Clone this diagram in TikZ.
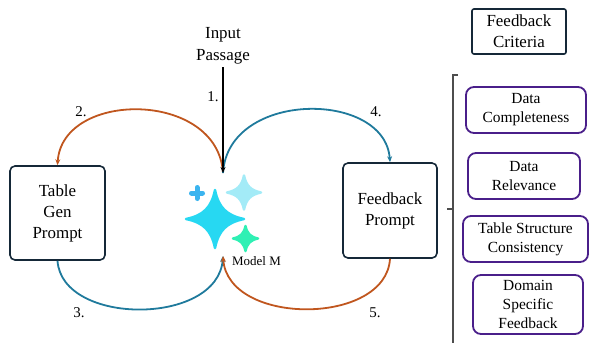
\documentclass[tikz,border=0pt]{standalone}
\usepackage{fontspec}
\setmainfont{Liberation Serif}
\usetikzlibrary{arrows.meta}
\definecolor{arcorange}{HTML}{C0561E}
\definecolor{arcblue}{HTML}{1F7A9C}
\definecolor{boxnavy}{HTML}{152838}
\definecolor{boxpurple}{HTML}{4A1F8A}
\definecolor{bracketgrey}{HTML}{4D4D4D}
\definecolor{starbig}{HTML}{27D8F2}
\definecolor{starlight}{HTML}{A3EBF7}
\definecolor{stargreen}{HTML}{2FF0B4}
\definecolor{starblue}{HTML}{3BB4EF}
% #1 cx, #2 cy, #3 radius, #4 colour, #5 near control (along arm), #6 side control
\newcommand\fourstar[6]{%
  \filldraw[#4, line width=2.5bp, line join=round]
    (#1+#3,#2) .. controls (#1+#5*#3,#2-#6*#3) and (#1+#6*#3,#2-#5*#3) .. (#1,#2-#3)
    .. controls (#1-#6*#3,#2-#5*#3) and (#1-#5*#3,#2-#6*#3) .. (#1-#3,#2)
    .. controls (#1-#5*#3,#2+#6*#3) and (#1-#6*#3,#2+#5*#3) .. (#1,#2+#3)
    .. controls (#1+#6*#3,#2+#5*#3) and (#1+#5*#3,#2+#6*#3) .. cycle;}
\tikzset{
  mainbox/.style={draw=boxnavy, line width=1.6bp, rounded corners=5bp, align=center, inner sep=0pt,
    font=\fontsize{17}{21}\selectfont},
  critbox/.style={draw=boxpurple, line width=1.8bp, rounded corners=8bp, align=center, inner sep=0pt,
    font=\fontsize{15.5}{19}\selectfont},
  numlabel/.style={font=\fontsize{15}{18}\selectfont, inner sep=0pt},
  orangearc/.style={draw=arcorange, line width=1.8bp, -{Stealth[length=6bp,width=5bp]}},
  bluearc/.style={draw=arcblue, line width=1.8bp, -{Stealth[length=6bp,width=5bp]}},
  crossarm/.style={starblue, line width=5bp, line cap=round},
}
\begin{document}
\begin{tikzpicture}[x=1bp, y=-1bp]
\useasboundingbox (0,0) rectangle (589,342);
% nodes
\node[align=center, inner sep=0pt, font=\fontsize{17}{22}\selectfont] (input) at (223,45.5) {Input\\Passage};
\coordinate (inbot) at (223,67);
\coordinate (mtop) at (223,173);
\coordinate (mbot) at (223,256);
\node[mainbox, minimum width=95bp, minimum height=94bp] (tablegen) at (57.5,213) {Table\\Gen\\Prompt};
\node[mainbox, minimum width=94bp, minimum height=95bp] (feedback) at (390,210.5) {Feedback\\Prompt};
\node[mainbox, rounded corners=2bp, minimum width=94bp, minimum height=45bp] (criteria) at (519,31.5) {Feedback\\Criteria};
\node[critbox, minimum width=120bp, minimum height=46bp] (c1) at (526,110) {Data\\Completeness};
\node[critbox, minimum width=112bp, minimum height=46bp] (c2) at (524,176) {Data\\Relevance};
\node[critbox, minimum width=125bp, minimum height=46bp] (c3) at (525.5,239) {Table Structure\\Consistency};
\node[critbox, minimum width=110bp, minimum height=59bp] (c4) at (528,304.5) {Domain\\Specific\\Feedback};
% sparkles
\fourstar{244}{192.5}{17}{starlight}{0.4}{0.12}
\fourstar{215}{219}{29}{starbig}{0.4}{0.12}
\fourstar{245.5}{238.5}{12.5}{stargreen}{0.4}{0.12}
\draw[crossarm] (191.5,193) -- (202.5,193);
\draw[crossarm] (197,187.5) -- (197,198.5);
% model label
\node[font=\fontsize{13}{15}\selectfont, anchor=west, inner sep=0pt] (model) at (232,261) {Model M};
% connectors
\draw[orangearc] (mtop) .. controls (218,90) and (62,90) .. (tablegen.north);
\draw[bluearc] (mtop) .. controls (228,90) and (385,90) .. (feedback.north);
\draw[bluearc] (tablegen.south) .. controls (62,326) and (218,326) .. (mbot);
\draw[orangearc] (feedback.south) .. controls (386,326) and (228,326) .. (mbot);
\draw[line width=1.6bp, -{Stealth[length=6bp,width=5bp]}] (inbot) -- (mtop);
% numbers
\node[numlabel] (n1) at (213,97) {1.};
\node[numlabel] (n2) at (81,112) {2.};
\node[numlabel] (n3) at (79,313) {3.};
\node[numlabel] (n4) at (376,112) {4.};
\node[numlabel] (n5) at (375,313) {5.};
% bracket
\coordinate (brtop) at (453,75);
\coordinate (brbot) at (453,343);
\draw[bracketgrey, line width=1.5bp] (458,75) -- (brtop) -- (brbot);
\draw[bracketgrey, line width=1.5bp] (447,209) -- (453,209);
\end{tikzpicture}
\end{document}
